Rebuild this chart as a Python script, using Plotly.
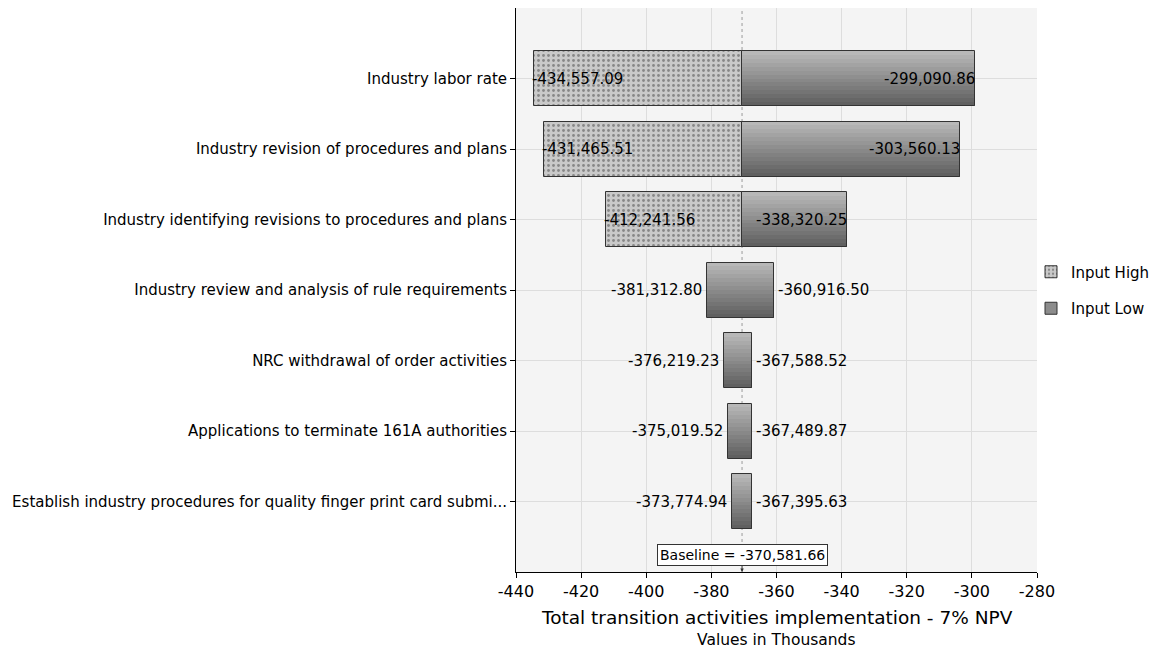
import plotly.graph_objects as go

categories = [
    "Industry labor rate",
    "Industry revision of procedures and plans",
    "Industry identifying revisions to procedures and plans",
    "Industry review and analysis of rule requirements",
    "NRC withdrawal of order activities",
    "Applications to terminate 161A authorities",
    "Establish industry procedures for quality finger print card submi...",
]
input_high = [-434557.09, -431465.51, -412241.56, -381312.80, -376219.23, -375019.52, -373774.94]
input_low = [-299090.86, -303560.13, -338320.25, -360916.50, -367588.52, -367489.87, -367395.63]
baseline = -370581.66
x_ticks = [-440, -420, -400, -380, -360, -340, -320, -300, -280]

FONT = "DejaVu Sans"
BAR_H = 0.78
N_STRIPS = 14
dotted_rows = {0, 1, 2}

rows = list(range(len(categories)))
hi_k = [v / 1000 for v in input_high]
lo_k = [v / 1000 for v in input_low]
base_k = baseline / 1000

fig = go.Figure()

# dotted "Input High" bars (wide rows)
d_rows = [r for r in rows if r in dotted_rows]
fig.add_trace(go.Bar(
    orientation="h", y=d_rows,
    base=[base_k for r in d_rows], x=[hi_k[r] - base_k for r in d_rows],
    width=BAR_H, name="Input High", legendgroup="a",
    marker=dict(color="#c9c9c9", line=dict(color="#333333", width=1),
                pattern=dict(shape=".", fgcolor="#444444", bgcolor="#c9c9c9",
                             size=5, solidity=0.25)),
    hoverinfo="skip",
))

# gradient "Input Low" bars built from horizontal strips
g_start = [base_k if r in dotted_rows else hi_k[r] for r in rows]
g_len = [lo_k[r] - g_start[r] for r in rows]
light, dark = 184, 96
for k in range(N_STRIPS):
    t = k / (N_STRIPS - 1)
    c = int(light + (dark - light) * t)
    fig.add_trace(go.Bar(
        orientation="h", y=rows, base=g_start, x=g_len,
        width=BAR_H / N_STRIPS * 1.02, offset=-BAR_H / 2 + k * BAR_H / N_STRIPS,
        marker=dict(color=f"rgb({c},{c},{c})", line=dict(width=0)),
        showlegend=False, hoverinfo="skip",
    ))
# outline of low bars
fig.add_trace(go.Bar(
    orientation="h", y=rows, base=g_start, x=g_len, width=BAR_H,
    marker=dict(color="rgba(0,0,0,0)", line=dict(color="#333333", width=1)),
    showlegend=False, hoverinfo="skip",
))
# legend entry for Input Low (off-range dummy)
fig.add_trace(go.Bar(
    orientation="h", y=[-5], base=[base_k], x=[1], width=BAR_H,
    name="Input Low", legendgroup="b",
    marker=dict(color="#8c8c8c", line=dict(color="#333333", width=1)),
    hoverinfo="skip",
))

# value labels
for r in rows:
    inside = r in dotted_rows
    hi_txt = f"{input_high[r]:,.2f}"
    lo_txt = f"{input_low[r]:,.2f}"
    fig.add_annotation(x=hi_k[r], y=r, text=hi_txt, showarrow=False,
                       xanchor="left" if inside else "right",
                       xshift=-4 if inside else -3,
                       font=dict(family=FONT, size=15, color="black"))
    fig.add_annotation(x=lo_k[r], y=r, text=lo_txt, showarrow=False,
                       xanchor="right" if inside else "left",
                       xshift=2 if inside else 2,
                       font=dict(family=FONT, size=15, color="black"))

# baseline line and label
fig.add_shape(type="line", xref="x", yref="paper", x0=base_k, x1=base_k, y0=0, y1=1,
              line=dict(color="#9a9a9a", width=1, dash="dot"), layer="below")
fig.add_annotation(x=base_k, y=0, xref="x", yref="paper",
                   text=f"Baseline = {baseline:,.2f}", showarrow=True,
                   ax=0, ay=-17, arrowhead=2, arrowsize=0.7, arrowwidth=1,
                   arrowcolor="#333333", bgcolor="white", bordercolor="#333333",
                   borderwidth=1, borderpad=2,
                   font=dict(family=FONT, size=14, color="black"))

# axis titles
fig.add_annotation(x=0.5, y=0, xref="paper", yref="paper", yanchor="middle",
                   yshift=-45,
                   text="Total transition activities implementation - 7% NPV",
                   showarrow=False, font=dict(family=FONT, size=18.5, color="black"))
fig.add_annotation(x=0.5, y=0, xref="paper", yref="paper", yanchor="middle",
                   yshift=-68,
                   text="Values in Thousands", showarrow=False,
                   font=dict(family=FONT, size=15.5, color="black"))

fig.update_layout(
    width=1154, height=644,
    margin=dict(l=508, r=125, t=0, b=80, autoexpand=False),
    barmode="overlay",
    bargap=0,
    paper_bgcolor="white", plot_bgcolor="#f4f4f4",
    font=dict(family=FONT, color="black"),
    legend=dict(x=0.9885, xanchor="left", y=0.5, yanchor="middle",
                traceorder="grouped", tracegroupgap=14,
                font=dict(family=FONT, size=15, color="black"),
                bgcolor="rgba(0,0,0,0)"),
    xaxis=dict(range=[-440, -280], tickvals=x_ticks, ticktext=[str(v) for v in x_ticks],
               showgrid=True, gridcolor="#dddddd", gridwidth=1, zeroline=False,
               showline=True, linecolor="black", linewidth=1,
               ticks="outside", ticklen=5, tickcolor="black",
               tickfont=dict(family=FONT, size=16, color="black")),
    yaxis=dict(range=[7, -1], tickvals=rows, ticktext=categories,
               showgrid=True, gridcolor="#dddddd", gridwidth=1, zeroline=False,
               showline=True, linecolor="black", linewidth=1,
               ticks="outside", ticklen=5, tickcolor="black",
               tickfont=dict(family=FONT, size=15, color="black")),
)

fig.write_html("out.html")
